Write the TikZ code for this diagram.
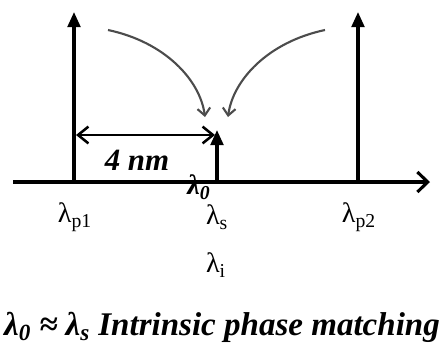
\documentclass[tikz,border=0pt]{standalone}
\usepackage{fontspec}
\setmainfont{Liberation Serif}
\usetikzlibrary{arrows.meta,positioning}

\tikzset{
  pump/.style={line width=2.2pt,-{Triangle[length=0.38cm,width=0.32cm]}},
  hop/.style={line width=1.5pt,draw=black!70,-{Straight Barb[length=0.18cm,width=0.32cm]}},
  lbl/.style={inner sep=0pt,font=\fontsize{20}{22}\selectfont}
}

\begin{document}
\begin{tikzpicture}[x=0.025cm,y=-0.025cm]
  \useasboundingbox (0,0) rectangle (440,345);
  % axis
  \coordinate (ax0) at (13,182);
  \coordinate (ax1) at (430,182);
  \draw[line width=2.2pt,-{Straight Barb[length=0.26cm,width=0.5cm]}] (ax0)--(ax1);
  % pumps and signal
  \coordinate (p1) at (74,182);  \coordinate (p1t) at (74,12);
  \coordinate (p2) at (358,182); \coordinate (p2t) at (358,12);
  \coordinate (s) at (217,182);  \coordinate (st) at (217,130);
  \draw[pump] (p1)--(p1t);
  \draw[pump] (p2)--(p2t);
  \draw[pump] (s)--(st);
  % spacing
  \coordinate (d0) at (76,135);
  \coordinate (d1) at (215,135);
  \draw[line width=1.8pt,{Straight Barb[length=0.26cm,width=0.42cm]}-{Straight Barb[length=0.26cm,width=0.42cm]}] (d0)--(d1);
  \node[inner sep=0pt,font=\fontsize{22}{26}\selectfont\bfseries\itshape] (gap) at (137,160) {4 nm};
  % energy transfer
  \coordinate (c1) at (108,30);  \coordinate (c1e) at (205,117);
  \coordinate (c2) at (325,30);  \coordinate (c2e) at (228,117);
  \draw[hop] (c1) .. controls (165,42) and (200,80) .. (c1e);
  \draw[hop] (c2) .. controls (268,42) and (233,80) .. (c2e);
  % labels
  \node[inner sep=0pt,font=\fontsize{20}{24}\selectfont\bfseries\itshape] (l0) at (199,187) {λ\textsubscript{0}};
  \node[lbl] (lp1) at (75,217) {λ\textsubscript{p1}};
  \node[lbl] (ls) at (217,217) {λ\textsubscript{s}};
  \node[lbl] (lp2) at (359,217) {λ\textsubscript{p2}};
  \node[lbl] (li) at (216,265) {λ\textsubscript{i}};
  \node[inner sep=0pt,font=\fontsize{23.5}{28}\selectfont\bfseries\itshape] (cap) at (222,327)
    {λ\textsubscript{0} ≈ λ\textsubscript{s} Intrinsic phase matching};
\end{tikzpicture}
\end{document}
